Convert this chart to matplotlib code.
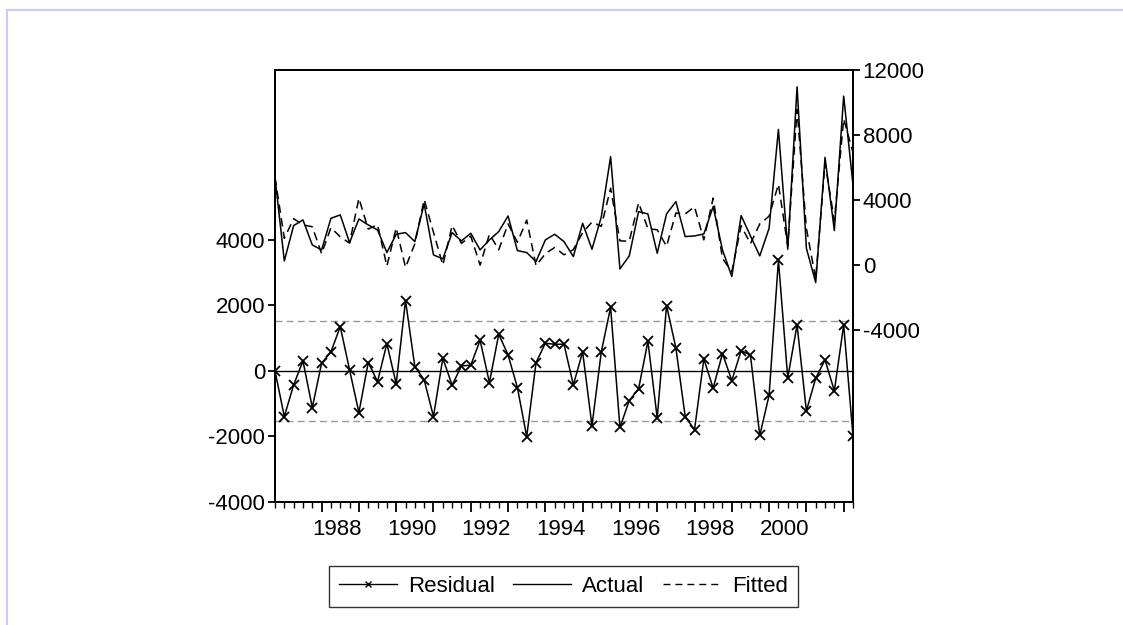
import matplotlib
matplotlib.use("Agg")
import matplotlib.pyplot as plt
from matplotlib.lines import Line2D
import numpy as np

plt.rcParams['font.family'] = ['Liberation Sans', 'DejaVu Sans']

# ---- data (quarterly, starting 1986Q4) ----
start_year = 1986.75
residual = [0, -1392, -427, 305, -1118, 234, 579, 1351, 30, -1270,
            254, -325, 833, -396, 2144, 132, -274, -1392, 386, -437,
            152, 173, 935, -356, 1118, 488, -508, -2002, 254, 843,
            813, 813,
            -427, 579, -1676, 579, 1940, -1727, -904, -549, 904, -1443,
            1991, 701, -1392, -1798, 366, -528, 528, -295, 620, 478,
            -1971, -742, 3380, -214, 1402, -1219, -224, 335, -610, 1402, -1991]
actual = [5390, 246, 2419, 2767, 1230, 922, 2870, 3075, 1373, 2829,
          2460, 2152, 758, 1886, 1988, 1435, 3751, 615, 369, 1988,
          1476, 1947, 922, 1537, 2050, 3013, 881, 758, 205, 1537,
          1886, 1435,
          512, 2562, 963, 2952, 6662, -246, 553, 3280, 3137, 717,
          3137, 3895, 1742, 1783, 1906, 3587, 922, -717, 3034, 1783,
          553, 2255, 8343, 963, 10965, 1025, -1087, 6621, 2112, 10393, 4920]
fitted = [5390, 1638, 2846, 2462, 2348, 688, 2291, 1724, 1343, 4099,
          2206, 2477, -75, 2282, -156, 1303, 4025, 2007, -17, 2425,
          1324, 1774, -13, 1893, 932, 2525, 1389, 2760, -49, 694,
          1073, 622,
          939, 1983, 2639, 2373, 4722, 1481, 1457, 3829, 2233, 2160,
          1146, 3194, 3134, 3581, 1540, 4115, 394, -422, 2414, 1305,
          2524, 2997, 4963, 1177, 9563, 2244, -863, 6286, 2722, 8991, 6911]
se_regression = 1520
year_labels = ['1988', '1990', '1992', '1994', '1996', '1998', '2000']
left_ticks = [-4000, -2000, 0, 2000, 4000]
right_ticks = [-4000, 0, 4000, 8000, 12000]
legend_labels = ['Residual', 'Actual', 'Fitted']

x = start_year + np.arange(len(residual)) / 4.0

fig = plt.figure(figsize=(11.23, 6.25), dpi=100)
ax = fig.add_axes([275/1123, 1-502/625, (853-275)/1123, (502-70)/625])
ax2 = ax.twinx()

# left axis: residuals
ax.axhline(0, color='black', lw=1.0, zorder=1)
ax.axhline(se_regression, color='#999999', lw=1.0, ls=(0, (5, 3)), zorder=1)
ax.axhline(-se_regression, color='#999999', lw=1.0, ls=(0, (5, 3)), zorder=1)
ax.plot(x, residual, color='black', lw=1.1, marker='x', ms=7, mew=1.3, zorder=3)

# right axis: actual & fitted
ax2.plot(x, actual, color='black', lw=1.1, zorder=3)
ax2.plot(x, fitted, color='black', lw=1.1, ls=(0, (5.5, 3.5)), zorder=3)

ax.set_xlim(x[0], x[-1])
ax.set_ylim(-4000, 9180)
ax2.set_ylim(-14600, 12000)
ax.set_yticks(left_ticks)
ax.set_yticklabels([str(v) for v in left_ticks])
ax2.set_yticks(right_ticks)
ax2.set_yticklabels([str(v) for v in right_ticks])

# x ticks: long at years, short at quarters
ax.set_xticks(np.arange(1988, 2003))
ax.set_xticklabels([])
ax.set_xticks(x, minor=True)
ax.tick_params(axis='x', which='major', length=7, width=1.3, direction='out')
ax.tick_params(axis='x', which='minor', length=4, width=1.0, direction='out')
for i, lab in enumerate(year_labels):
    ax.text(1988 + 2*i + 0.42, -0.04, lab, transform=ax.get_xaxis_transform(),
            ha='center', va='top', fontsize=16)

ax.tick_params(axis='y', length=5, width=1.3, labelsize=16, pad=2)
ax2.tick_params(axis='y', length=5, width=1.3, labelsize=16, pad=2)
for a in (ax, ax2):
    for s in a.spines.values():
        s.set_linewidth(1.4)

handles = [Line2D([], [], color='black', lw=1.0, marker='x', ms=4.5, mew=1.0),
           Line2D([], [], color='black', lw=1.0),
           Line2D([], [], color='black', lw=1.0, ls=(0, (5, 3.6)))]
leg = fig.legend(handles, legend_labels, loc='center', bbox_to_anchor=(563.5/1123, 1-586/625),
                 ncol=3, fontsize=16, frameon=True, fancybox=False, handlelength=2.6,
                 handletextpad=0.5, columnspacing=0.85, borderpad=0.45, borderaxespad=0)
leg.get_frame().set_edgecolor('black')
leg.get_frame().set_linewidth(1.0)

# light blue border at top and left
bc = '#c6cdfd'
fig.add_artist(Line2D([7/1123, 1], [1-10/625, 1-10/625], color=bc, lw=1.5, transform=fig.transFigure))
fig.add_artist(Line2D([7/1123, 7/1123], [0, 1-10/625], color=bc, lw=1.5, transform=fig.transFigure))

fig.savefig('out.png', dpi=100)
